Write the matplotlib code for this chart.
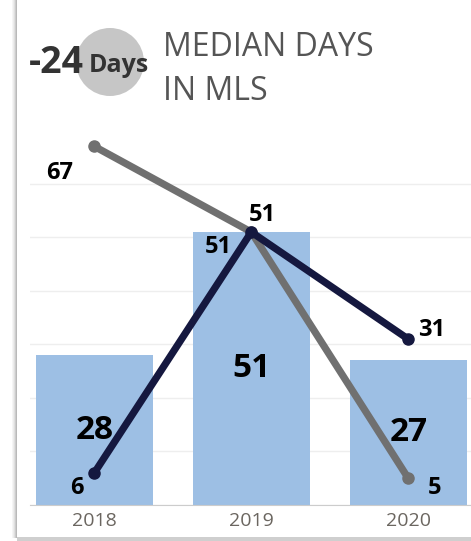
import numpy as np
import matplotlib.pyplot as plt
from matplotlib.patches import Circle, Rectangle

years = ['2018', '2019', '2020']
bar_vals = [28, 51, 27]
gray_vals = [67, 51, 5]
navy_vals = [6, 51, 31]

fig = plt.figure(figsize=(4.71, 5.41), dpi=100)
fig.patch.set_facecolor('white')

# card shadow on left / bottom
for i, a in enumerate([0.08, 0.15, 0.25, 0.4, 0.55]):
    fig.patches.append(Rectangle(((12 + i) / 471, 0.005), 1 / 471, 0.995,
                                 transform=fig.transFigure, color='#808080',
                                 alpha=a, lw=0))
fig.patches.append(Rectangle((17 / 471, 0.0), 1 - 17 / 471, 4 / 541,
                             transform=fig.transFigure, color='#a0a0a0',
                             alpha=0.5, lw=0))

ax = fig.add_axes([30 / 471, 1 - 505 / 541, 1 - 30 / 471, (505 - 125) / 541])
x = np.arange(len(years))

ax.bar(x, bar_vals, width=0.745, color='#9dbfe4', zorder=2)
ax.plot(x, gray_vals, color='#707070', lw=5.2, solid_capstyle='round',
        solid_joinstyle='round', marker='o', ms=8, zorder=3)
ax.plot(x, navy_vals, color='#15183f', lw=5.2, solid_capstyle='round',
        solid_joinstyle='round', marker='o', ms=8, zorder=4)

ax.set_xlim(-0.41, 2.4)
ax.set_ylim(0, 71)
ax.set_yticks(range(0, 61, 10))
ax.yaxis.grid(True, color='#eeeeee', lw=1)
ax.set_axisbelow(True)
ax.tick_params(axis='y', left=False, labelleft=False)
ax.set_xticks(x)
ax.set_xticklabels(years, fontsize=14, color='#6b6660', family='Open Sans')
ax.tick_params(axis='x', length=0, pad=5)
for s in ['top', 'right', 'left']:
    ax.spines[s].set_visible(False)
ax.spines['bottom'].set_color('#cccccc')

# bar labels in bar centers
for xi, v in zip(x, bar_vals):
    ax.text(xi, v / 2, str(v), ha='center', va='center', fontsize=24,
            fontweight='bold', family='Open Sans', color='black', zorder=5)

lab = dict(fontsize=17, fontweight='bold', family='Open Sans', color='black',
           zorder=6, ha='center', va='center')
ax.text(x[0] - 0.22, gray_vals[0] - 5, str(gray_vals[0]), **lab)
ax.text(x[0] - 0.11, navy_vals[0] - 2.8, str(navy_vals[0]), **lab)
ax.text(x[1] - 0.21, gray_vals[1] - 2.8, str(gray_vals[1]), **lab)
ax.text(x[1] + 0.07, navy_vals[1] + 3.2, str(navy_vals[1]), **lab)
ax.text(x[2] + 0.15, navy_vals[2] + 1.7, str(navy_vals[2]), **lab)
ax.text(x[2] + 0.17, gray_vals[2] - 1.8, str(gray_vals[2]), **lab)

# header
fig.patches.append(Circle((110 / 100, (541 - 62) / 100), 0.34,
                          transform=fig.dpi_scale_trans, color='#c6c6c6', lw=0))
fig.text(29 / 471, 1 - 63 / 541, '-24', fontsize=27, fontweight='bold',
         family='Open Sans', color='#333333', va='center', ha='left')
fig.text(89 / 471, 1 - 65 / 541, 'Days', fontsize=18, fontweight='bold',
         family='Open Sans', color='#333333', va='center', ha='left')
fig.text(163 / 471, 1 - 47 / 541, 'MEDIAN DAYS', fontsize=23,
         family='Open Sans', color='#555555', va='center', ha='left')
fig.text(163 / 471, 1 - 91 / 541, 'IN MLS', fontsize=23,
         family='Open Sans', color='#555555', va='center', ha='left')

fig.savefig('out.png', dpi=100)
